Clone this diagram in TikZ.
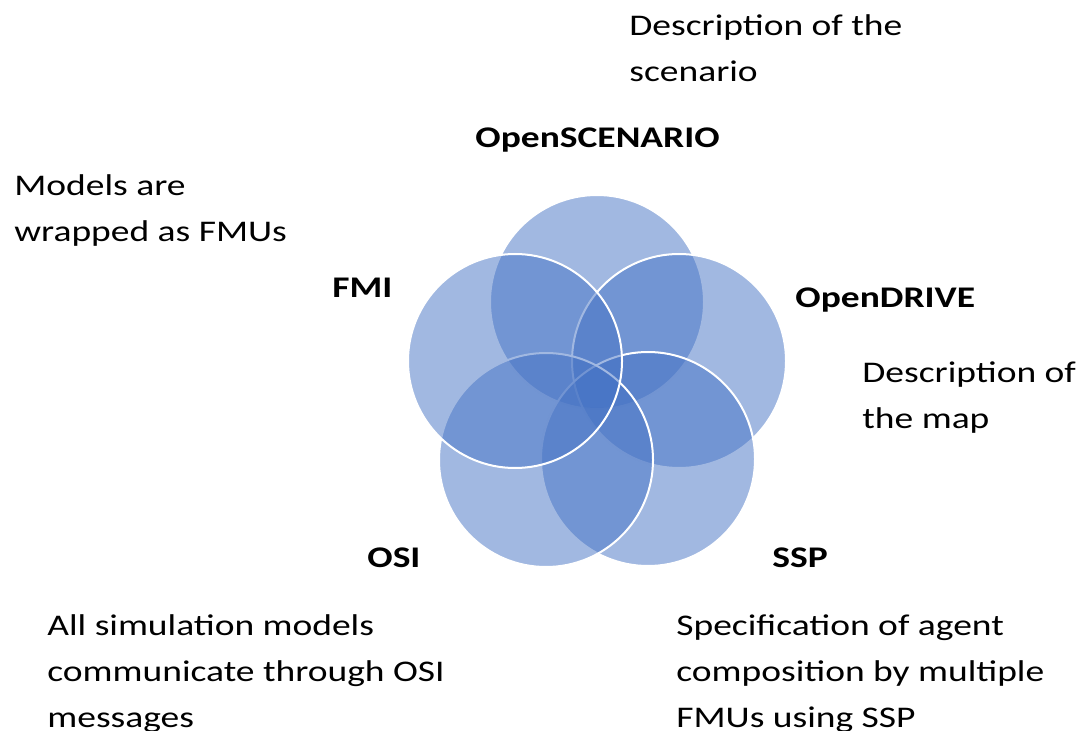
\documentclass[tikz,border=0pt]{standalone}
\usepackage{fontspec}
\setmainfont{Carlito}[FakeStretch=1.25]
\definecolor{vennblue}{HTML}{4472C4}
\tikzset{
  ring/.style={circle, minimum size=107pt, inner sep=0pt, fill=vennblue,
    fill opacity=0.5, draw=white, draw opacity=1, line width=1pt},
  tag/.style={anchor=base west, inner sep=0pt, font=\bfseries\fontsize{15}{18}\selectfont},
  note/.style={anchor=base west, inner sep=0pt, align=left, font=\fontsize{15}{23}\selectfont},
}

\begin{document}
\begin{tikzpicture}[x=0.5pt, y=-0.5pt]
\useasboundingbox (0,0) rectangle (1079,731);
% the five standards
\node[ring] (scen) at (597,302) {};
\node[ring] (drive) at (679,361) {};
\node[ring] (ssp) at (648,459) {};
\node[ring] (osi) at (546,460) {};
\node[ring] (fmi) at (515,361) {};
% names
\node[tag] (scenname) at (475,148) {OpenSCENARIO};
\node[tag] (drivename) at (795,308) {OpenDRIVE};
\node[tag] (sspname) at (772,567) {SSP};
\node[tag] (osiname) at (367,567) {OSI};
\node[tag] (fminame) at (332,298) {FMI};
% what each one does (placed at the baseline of the last line)
\node[note] (scentext) at (629,82) {Description of the\\scenario};
\node[note] (drivetext) at (862,428) {Description of\\the map};
\node[note] (ssptext) at (676,727) {Specification of agent\\composition by multiple\\FMUs using SSP};
\node[note] (ositext) at (47,727) {All simulation models\\communicate through OSI\\messages};
\node[note] (fmitext) at (14,242) {Models are\\wrapped as FMUs};
\end{tikzpicture}
\end{document}
